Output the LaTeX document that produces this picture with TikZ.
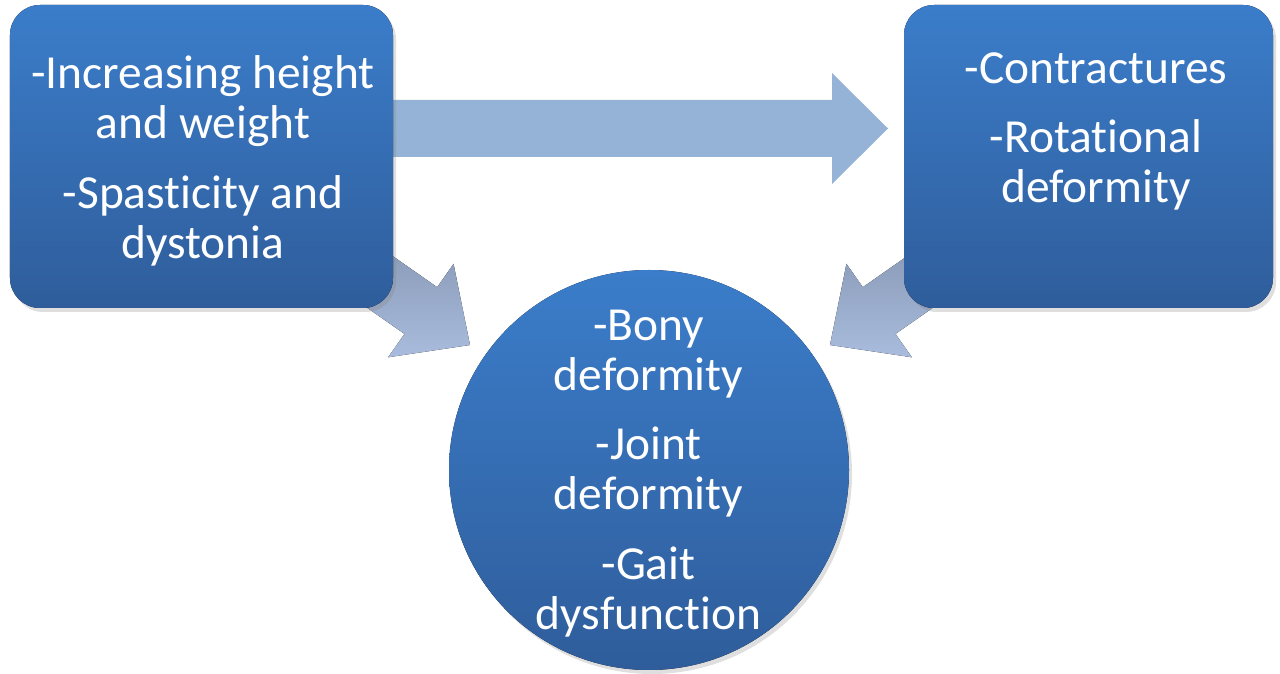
\documentclass[tikz,border=0pt]{standalone}
\usepackage{fontspec}
\setmainfont{Carlito}[RawFeature=-liga]
\usetikzlibrary{shadows}
\definecolor{boxtop}{HTML}{3B7DCA}
\definecolor{boxbot}{HTML}{2F5D9B}
\definecolor{flatarrow}{HTML}{95B3D7}
\definecolor{arrowdark}{HTML}{8494B0}
\definecolor{arrowlight}{HTML}{A9BCDD}
\begin{document}
\begin{tikzpicture}[
    bluebox/.style={rounded corners=0.6cm, top color=boxtop, bottom color=boxbot,
      drop shadow={opacity=0.25, shadow xshift=0.06cm, shadow yshift=-0.08cm}},
    boxtext/.style={align=center, text=white, inner sep=0pt,
      font=\fontsize{27}{28.5}\selectfont},
    slanted/.style={top color=arrowdark, bottom color=arrowlight}]
  \useasboundingbox (0,0) rectangle (25.6,13.48);
  % fat arrows first, the boxes sit on top of them
  \coordinate (tipR) at (17.76,10.91);
  \coordinate (tipL) at (9.4,6.58);
  \coordinate (tipM) at (16.6,6.58);
  \begin{scope}[shift={(tipR)}]
    \fill [flatarrow] (0,0) -- (-1.12,1.11) -- (-1.12,0.57) -- (-10,0.57)
      -- (-10,-0.57) -- (-1.12,-0.57) -- (-1.12,-1.11) -- cycle;
  \end{scope}
  \begin{scope}[shift={(tipL)},rotate=-35]
    \fill [slanted] (0,0) -- (-1.2,1.14) -- (-1.2,0.57) -- (-3.4,0.57)
      -- (-3.4,-0.57) -- (-1.2,-0.57) -- (-1.2,-1.14) -- cycle;
  \end{scope}
  \begin{scope}[shift={(tipM)},rotate=215]
    \fill [slanted] (0,0) -- (-1.2,1.14) -- (-1.2,0.57) -- (-3.4,0.57)
      -- (-3.4,-0.57) -- (-1.2,-0.57) -- (-1.2,-1.14) -- cycle;
  \end{scope}
  % boxes and circle
  \fill [bluebox] (0.2,7.32) rectangle (7.86,13.38);
  \fill [bluebox] (18.08,7.32) rectangle (25.46,13.38);
  \fill [bluebox] (12.98,4.08) circle [radius=4.0];
  % texts
  \node [boxtext] (causes) at (4.06,10.26)
    {-Increasing height\\ and weight\\[11pt] -Spasticity and\\ dystonia};
  \node [boxtext] (contract) at (21.92,10.85)
    {-Contractures\\[11pt] -Rotational\\ deformity};
  \node [boxtext] (result) at (12.97,4.01)
    {-Bony\\ deformity\\[11pt] -Joint\\ deformity\\[11pt] -Gait\\ dysfunction};
\end{tikzpicture}
\end{document}
